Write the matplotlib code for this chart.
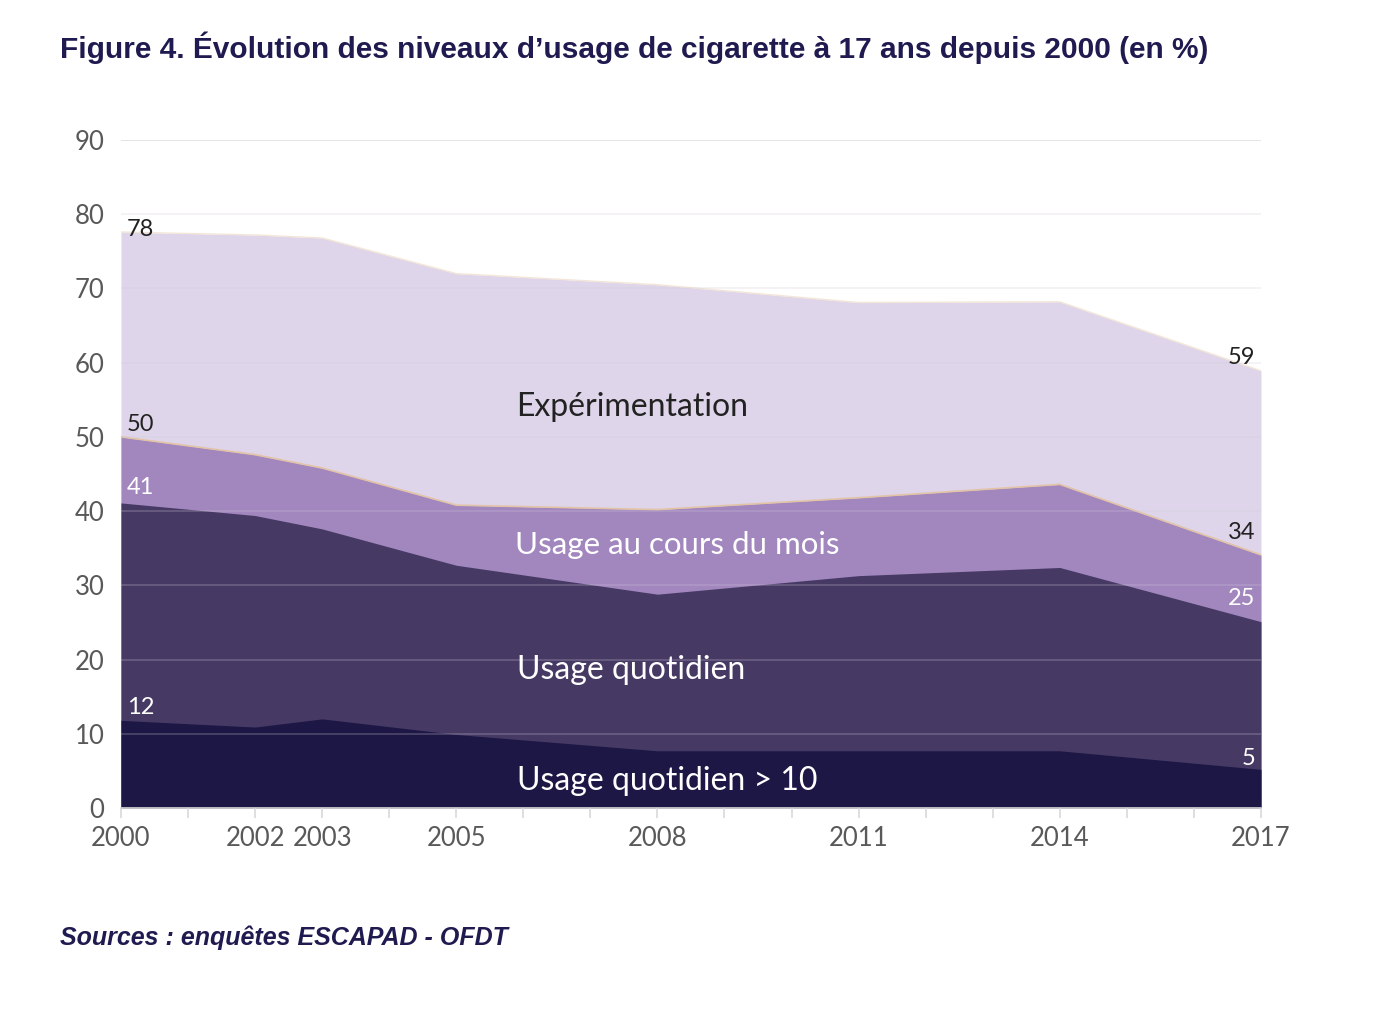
import matplotlib.pyplot as plt
import numpy as np

years = [2000, 2002, 2003, 2005, 2008, 2011, 2014, 2017]
experimentation = [77.6, 77.2, 76.8, 72.0, 70.5, 68.1, 68.2, 58.9]
mois = [50.0, 47.6, 45.8, 40.8, 40.2, 41.8, 43.6, 34.1]
quotidien = [41.1, 39.4, 37.6, 32.7, 28.8, 31.3, 32.4, 25.1]
quotidien10 = [11.8, 10.9, 12.0, 9.9, 7.7, 7.7, 7.7, 5.2]

labels_debut = ["78", "50", "41", "12"]
labels_fin = ["59", "34", "25", "5"]

plt.rcParams['font.family'] = ['Lato', 'DejaVu Sans']

fig = plt.figure(figsize=(13.73, 10.27), dpi=100)
ax = fig.add_axes([0.0881, 0.2133, 0.8303, 0.6504])

ax.fill_between(years, experimentation, color="#ded5ea", lw=0)
ax.plot(years, experimentation, color="#f3e6d8", lw=1)
ax.fill_between(years, mois, color="#a287bf", lw=0)
ax.plot(years, mois, color="#e2c3a6", lw=1.2)
ax.fill_between(years, quotidien, color="#463a65", lw=0)
ax.fill_between(years, quotidien10, color="#1d1746", lw=0)

# grille par-dessus les aires, très discrète
for y in range(10, 100, 10):
    ax.axhline(y, color="#cfc9d6", lw=1.3, alpha=0.25, zorder=5)
ax.axhline(90, color="#d9d9d9", lw=1.3, alpha=0.6, zorder=5)

ax.set_xlim(2000, 2017)
ax.set_ylim(0, 90)
ax.set_xticks(years)
ax.set_xticks(range(2000, 2018), minor=True)
ax.set_yticks(range(0, 100, 10))
ax.tick_params(axis="x", which="both", length=7, color="#d9d9d9", width=1.2,
               labelsize=18.5, labelcolor="#595959", pad=6)
ax.tick_params(axis="y", length=0, labelsize=18.5, labelcolor="#595959", pad=12)

for s in ["top", "right", "left"]:
    ax.spines[s].set_visible(False)
ax.spines["bottom"].set_color("#d9d9d9")
ax.spines["bottom"].set_linewidth(1.2)

# étiquettes de valeurs (décalage vertical en pixels)
series = [experimentation, mois, quotidien, quotidien10]
couleurs = ["#222222", "#222222", "white", "white"]
dy_debut = [3, 12, 15, 13]
dy_fin = [13, 22, 23, 11]
for serie, d, f, c, dd, df in zip(series, labels_debut, labels_fin, couleurs, dy_debut, dy_fin):
    ax.annotate(d, (years[0], serie[0]), xytext=(4, dd * 0.72), textcoords="offset points",
                fontsize=17, color=c, ha="left", va="center", zorder=6)
    ax.annotate(f, (years[-1], serie[-1]), xytext=(-4, df * 0.72), textcoords="offset points",
                fontsize=17, color=c, ha="right", va="center", zorder=6)

# noms des aires
x_nom = 2005.9
ax.text(x_nom, 54.0, "Expérimentation", fontsize=23, color="#222222", ha="left", va="center", zorder=6)
ax.text(x_nom - 0.03, 35.4, "Usage au cours du mois", fontsize=22.5, color="white", ha="left", va="center", zorder=6)
ax.text(x_nom, 18.6, "Usage quotidien", fontsize=23, color="white", ha="left", va="center", zorder=6)
ax.text(x_nom, 3.6, "Usage quotidien > 10", fontsize=23, color="white", ha="left", va="center", zorder=6)

fig.text(60 / 1373, 1 - 48 / 1027, "Figure 4. Évolution des niveaux d\u2019usage de cigarette à 17 ans depuis 2000 (en %)",
         fontsize=21.5, fontweight="bold", color="#1f1a4f", family=["Liberation Sans", "DejaVu Sans"],
         ha="left", va="center")
fig.text(60 / 1373, 1 - 938 / 1027, "Sources : enquêtes ESCAPAD - OFDT",
         fontsize=18, fontweight="bold", fontstyle="italic", color="#1f1a4f",
         family=["Liberation Sans", "DejaVu Sans"], ha="left", va="center")

fig.savefig("out.png", dpi=100, facecolor="white")
